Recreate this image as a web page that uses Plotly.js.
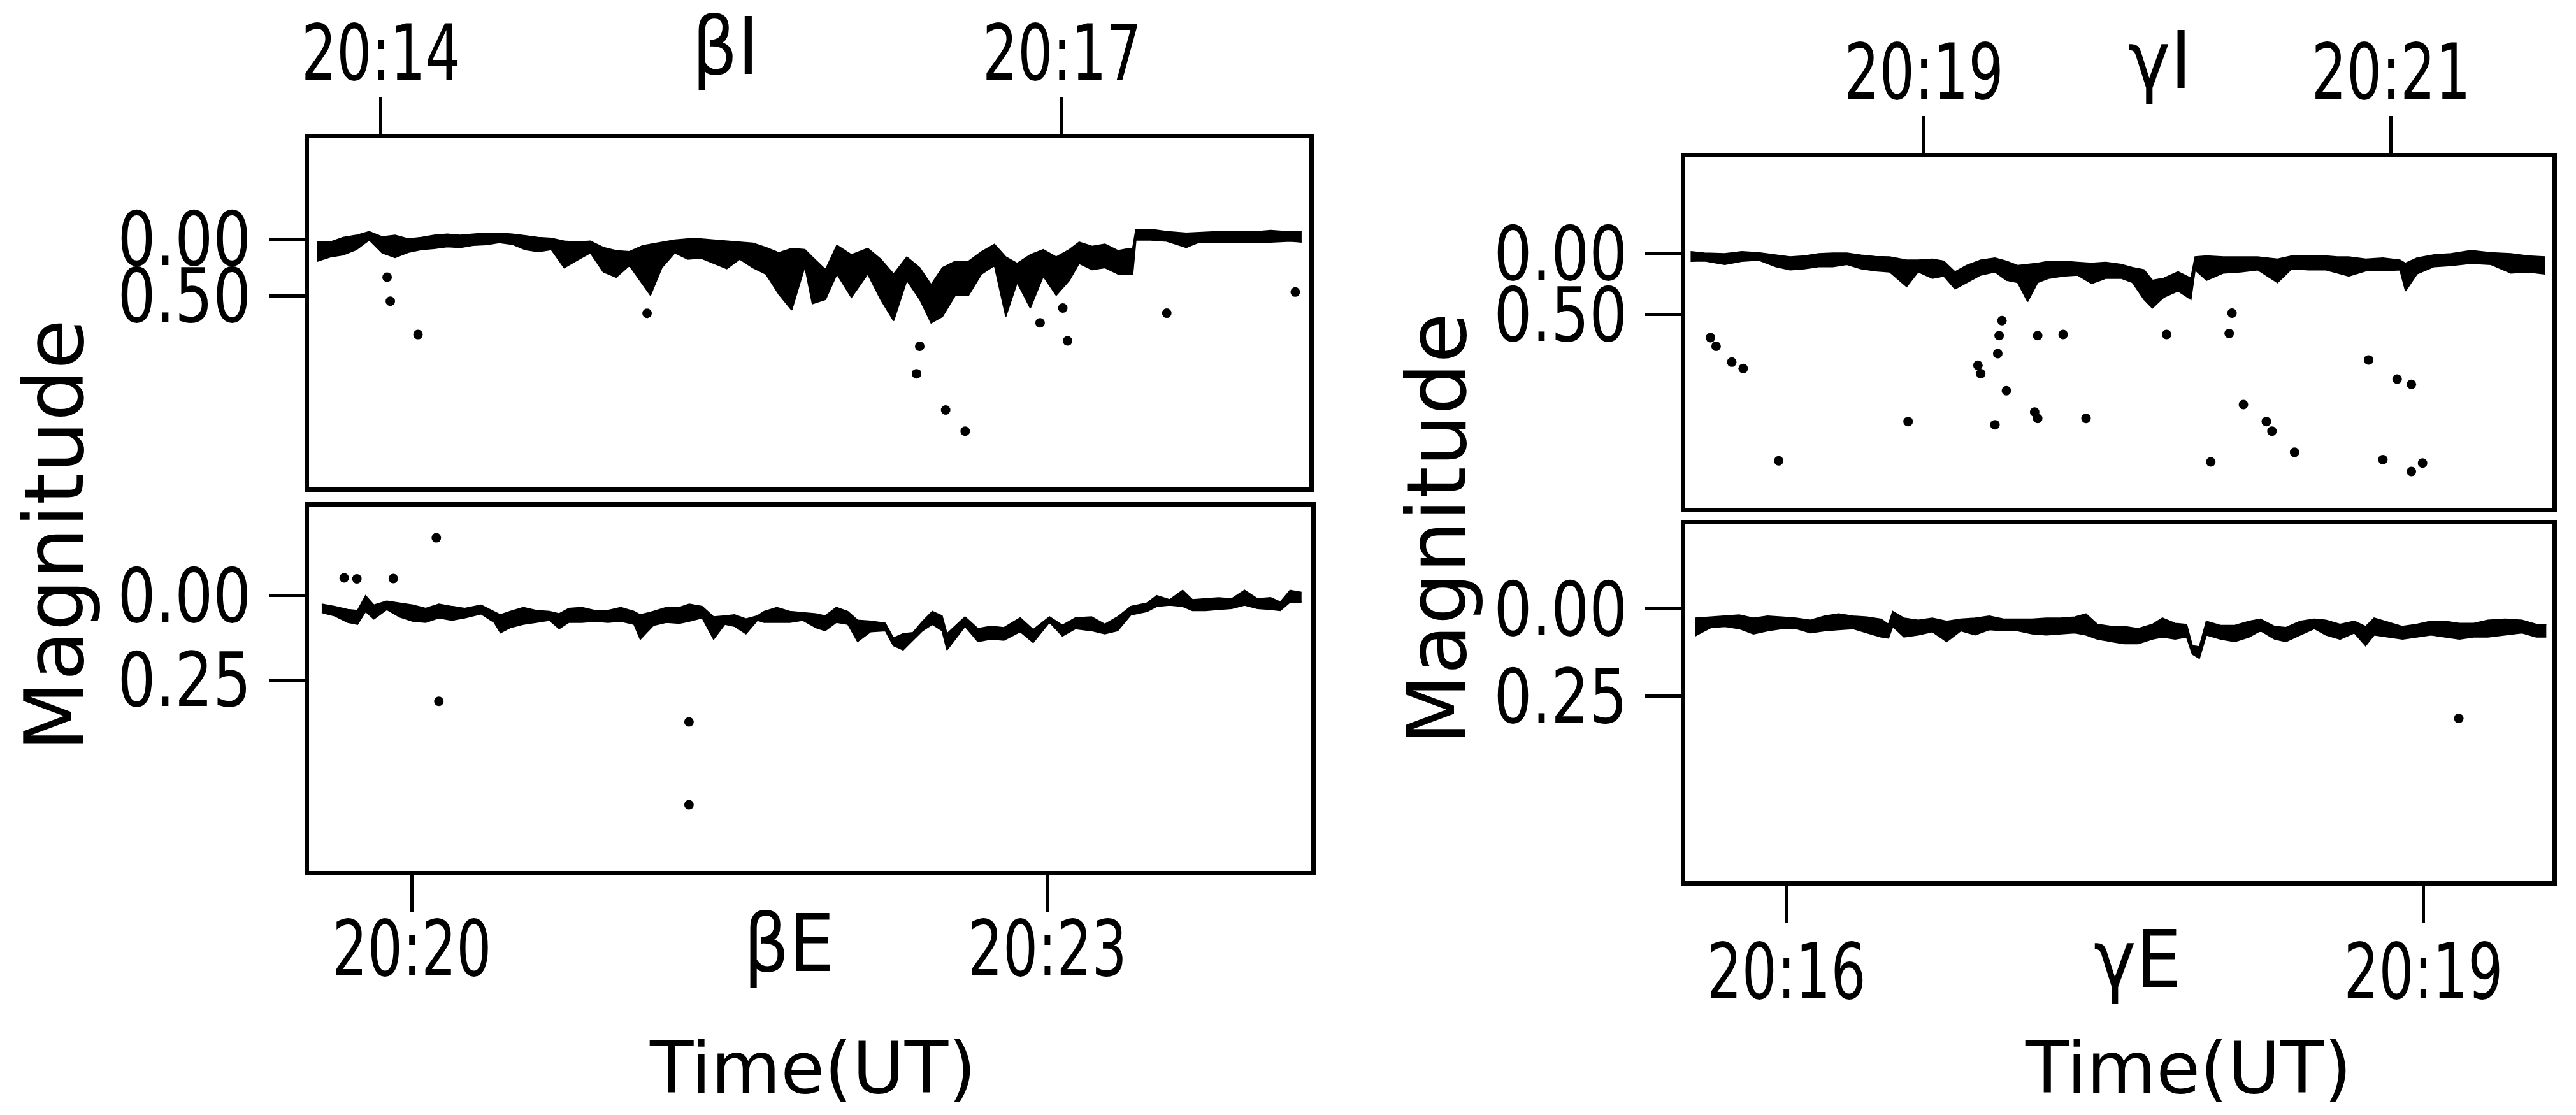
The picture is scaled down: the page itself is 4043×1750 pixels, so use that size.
<!DOCTYPE html>
<html><head><meta charset="utf-8">
<script src="https://cdn.plot.ly/plotly-3.0.1.min.js"></script>
<style>html,body{margin:0;padding:0;background:#fff}</style>
</head><body><div id="chart" style="width:4043px;height:1750px"></div>
<script>
// ---- beta I (ingress) : time in minutes after 20:00, magnitude ----
const biT = [13.719,13.776,13.833,13.891,13.948,14.005,14.062,14.120,14.177,14.234,14.292,14.349,14.406,14.463,14.521,14.578,14.635,14.693,14.750,14.807,14.864,14.922,14.979,15.036,15.094,15.151,15.187,15.237,15.294,15.351,15.409,15.466,15.523,15.580,15.638,15.695,15.752,15.809,15.867,
 15.900,15.958,16.008,16.072,16.144,16.201,16.258,16.316,16.373,16.423,16.473,16.530,16.588,16.645,16.702,16.752,16.802,16.860,16.917,16.974,17.032,17.075,17.132,17.189,17.246,17.297,17.311,17.325,17.390,17.461,17.547,17.604,17.690,17.776,17.862,17.919,18.005,18.055];
const biTop = [0.024,0.028,-0.013,-0.032,-0.065,-0.019,-0.032,0.000,-0.013,-0.032,-0.043,-0.032,-0.043,-0.051,-0.051,-0.043,-0.028,-0.013,-0.006,0.019,0.028,0.019,0.075,0.103,0.112,0.062,0.047,0.028,0.009,0.000,0.000,0.009,0.019,0.028,0.037,0.075,0.122,0.084,0.094,
 0.159,0.271,0.056,0.140,0.084,0.178,0.309,0.159,0.253,0.403,0.253,0.197,0.197,0.112,0.047,0.159,0.215,0.140,0.094,0.159,0.094,0.028,0.066,0.047,0.103,0.084,0.084,-0.084,-0.084,-0.065,-0.051,-0.056,-0.065,-0.062,-0.065,-0.075,-0.062,-0.065];
const biBot = [0.197,0.159,0.140,0.094,0.009,0.122,0.163,0.118,0.094,0.084,0.069,0.075,0.056,0.051,0.032,0.047,0.094,0.112,0.094,0.253,0.187,0.122,0.290,0.337,0.234,0.393,0.496,0.253,0.122,0.178,0.169,0.215,0.262,0.178,0.253,0.309,0.487,0.627,0.243,
 0.571,0.533,0.309,0.515,0.309,0.533,0.721,0.365,0.533,0.740,0.684,0.496,0.496,0.309,0.234,0.684,0.384,0.609,0.328,0.496,0.365,0.215,0.271,0.253,0.309,0.309,0.309,0.009,0.009,0.019,0.075,0.028,0.028,0.024,0.024,0.028,0.019,0.028];
const biOutT = [14.027,14.041,14.163,15.172,16.373,16.359,16.487,16.573,16.903,17.003,17.024,17.461,18.027];
const biOutM = [0.337,0.549,0.843,0.656,0.946,1.189,1.508,1.695,0.740,0.609,0.899,0.655,0.468];

// ---- beta E (egress) ----
const beT = [19.574,19.635,19.697,19.743,19.781,19.820,19.881,19.942,20.004,20.065,20.127,20.188,20.249,20.326,20.388,20.418,20.464,20.526,20.587,20.649,20.695,20.741,20.802,20.863,20.925,20.986,21.048,21.078,21.140,21.201,21.263,21.309,21.370,21.424,21.477,21.523,21.577,21.631,21.662,21.723,21.784,21.846,21.907,
 21.951,22.004,22.058,22.104,22.166,22.235,22.273,22.319,22.365,22.411,22.457,22.503,22.526,22.611,22.672,22.734,22.795,22.872,22.933,23.010,23.071,23.133,23.209,23.271,23.332,23.394,23.470,23.516,23.577,23.639,23.685,23.747,23.808,23.870,23.931,23.992,24.054,24.100,24.146,24.200];
const beTop = [0.025,0.032,0.041,0.044,0.000,0.028,0.016,0.022,0.028,0.038,0.025,0.032,0.038,0.028,0.047,0.057,0.047,0.035,0.044,0.047,0.054,0.038,0.035,0.044,0.044,0.035,0.047,0.057,0.047,0.035,0.035,0.025,0.032,0.063,0.060,0.057,0.069,0.060,0.047,0.035,0.047,0.050,0.054,
 0.060,0.035,0.047,0.073,0.076,0.082,0.126,0.113,0.110,0.076,0.047,0.060,0.113,0.063,0.098,0.091,0.095,0.066,0.101,0.063,0.088,0.066,0.063,0.085,0.063,0.032,0.022,0.000,0.012,-0.016,0.012,0.009,0.006,0.009,-0.016,0.009,0.006,0.019,-0.016,-0.010];
const beBot = [0.050,0.060,0.079,0.085,0.047,0.069,0.041,0.063,0.076,0.079,0.066,0.073,0.066,0.054,0.079,0.110,0.095,0.085,0.079,0.073,0.098,0.079,0.079,0.076,0.079,0.076,0.085,0.129,0.088,0.079,0.082,0.076,0.066,0.129,0.085,0.091,0.113,0.073,0.079,0.079,0.079,0.073,0.095,
 0.104,0.079,0.085,0.136,0.107,0.104,0.148,0.161,0.132,0.104,0.085,0.104,0.161,0.091,0.136,0.129,0.132,0.107,0.139,0.079,0.120,0.098,0.104,0.113,0.104,0.057,0.047,0.032,0.028,0.032,0.044,0.044,0.041,0.038,0.028,0.038,0.041,0.044,0.019,0.019];
const beOutT = [19.680,19.740,19.912,20.115,20.127,21.308,21.308];
const beOutM = [-0.053,-0.050,-0.051,-0.172,0.314,0.375,0.621];

// ---- gamma I (ingress) ----
const giT = [18.001,18.061,18.147,18.220,18.293,18.366,18.427,18.488,18.549,18.610,18.670,18.731,18.792,18.853,18.926,18.975,19.036,19.085,19.133,19.182,19.243,19.304,19.353,19.401,19.444,19.487,19.535,19.596,19.657,19.718,19.779,
 19.844,19.893,19.942,19.978,20.027,20.088,20.143,20.161,20.210,20.283,20.356,20.429,20.514,20.575,20.648,20.721,20.770,20.819,20.892,20.965,21.038,21.062,21.111,21.184,21.257,21.343,21.428,21.513,21.586,21.659];
const giTop = [-0.012,0.000,0.005,-0.012,-0.003,0.014,0.031,0.023,0.005,0.000,0.000,0.017,0.028,0.031,0.057,0.057,0.049,0.066,0.153,0.101,0.057,0.040,0.066,0.101,0.092,0.083,0.066,0.066,0.075,0.083,0.075,
 0.092,0.118,0.136,0.222,0.205,0.153,0.205,0.031,0.023,0.031,0.031,0.031,0.049,0.023,0.023,0.023,0.031,0.031,0.049,0.040,0.057,0.083,0.040,0.014,0.005,-0.021,-0.003,0.005,0.023,0.031];
const giBot = [0.066,0.063,0.092,0.066,0.057,0.110,0.136,0.127,0.110,0.110,0.092,0.127,0.144,0.153,0.274,0.153,0.205,0.187,0.292,0.240,0.179,0.153,0.222,0.240,0.396,0.240,0.205,0.187,0.179,0.248,0.205,
 0.205,0.240,0.378,0.448,0.361,0.309,0.378,0.136,0.222,0.162,0.153,0.136,0.240,0.127,0.136,0.136,0.162,0.187,0.144,0.144,0.136,0.309,0.170,0.110,0.101,0.083,0.092,0.162,0.153,0.170];
const giOutT = [18.086,18.110,18.177,18.226,18.378,18.932,19.231,19.243,19.304,19.316,19.322,19.334,19.353,19.474,19.487,19.487,19.596,19.694,20.039,20.228,20.307,20.319,20.368,20.466,20.490,20.587,20.904,20.965,21.026,21.087,21.087,21.135];
const giOutM = [0.691,0.761,0.891,0.943,1.698,1.377,0.917,0.986,1.403,0.821,0.674,0.552,1.125,1.299,1.351,0.674,0.665,1.351,0.665,1.707,0.657,0.491,1.238,1.377,1.455,1.628,0.873,1.689,1.030,1.073,1.785,1.716];

// ---- gamma E (egress) ----
const geT = [15.570,15.644,15.711,15.778,15.845,15.912,15.979,16.046,16.113,16.180,16.246,16.313,16.380,16.447,16.481,16.501,16.554,16.621,16.688,16.755,16.822,16.889,16.956,17.023,17.090,17.157,17.224,17.291,17.358,17.411,17.465,17.532,
 17.590,17.657,17.724,17.771,17.831,17.885,17.912,17.945,17.978,18.045,18.112,18.179,18.233,18.300,18.353,18.420,18.487,18.541,18.608,18.675,18.728,18.768,18.835,18.902,18.969,19.036,19.103,19.170,19.237,19.304,19.384,19.465,19.532,19.579];
const geTop = [0.027,0.024,0.021,0.018,0.027,0.021,0.024,0.027,0.033,0.021,0.015,0.021,0.024,0.030,0.045,0.008,0.027,0.033,0.027,0.036,0.030,0.027,0.021,0.030,0.030,0.030,0.027,0.027,0.024,0.015,0.045,0.051,
 0.051,0.057,0.045,0.027,0.042,0.045,0.106,0.109,0.036,0.048,0.048,0.036,0.030,0.051,0.054,0.036,0.030,0.033,0.045,0.036,0.051,0.027,0.039,0.051,0.045,0.036,0.036,0.042,0.042,0.033,0.030,0.033,0.045,0.045];
const geBot = [0.078,0.054,0.051,0.057,0.072,0.063,0.057,0.057,0.069,0.063,0.060,0.057,0.069,0.081,0.084,0.051,0.081,0.075,0.066,0.094,0.063,0.075,0.060,0.063,0.063,0.072,0.075,0.072,0.069,0.075,0.087,0.094,
 0.100,0.100,0.087,0.081,0.087,0.081,0.130,0.142,0.075,0.087,0.094,0.081,0.063,0.087,0.094,0.075,0.057,0.075,0.087,0.069,0.106,0.075,0.081,0.087,0.081,0.075,0.081,0.087,0.081,0.081,0.075,0.069,0.081,0.081];
const geOutT = [19.167];
const geOutM = [0.314];

// ---- tick labels and panel names ----
const biTicks = [14, 17], biLabels = ['20:14', '20:17'];
const beTicks = [20, 23], beLabels = ['20:20', '20:23'];
const giTicks = [19, 21], giLabels = ['20:19', '20:21'];
const geTicks = [16, 19], geLabels = ['20:16', '20:19'];
const magTicksI = [0, 0.5], magLabelsI = ['0.00', '0.50'];
const magTicksE = [0, 0.25], magLabelsE = ['0.00', '0.25'];
const panelNames = ['βI', 'βE', 'γI', 'γE'];

const COND = '"DejaVu Sans Condensed", "DejaVu Sans", sans-serif';
const SANS = '"DejaVu Sans", sans-serif';
const W = 4043, H = 1750;
const px = v => v / W, py = v => 1 - v / H;

function band(t, top, bot, xa, ya) {
  return [
    {x: t, y: top, xaxis: xa, yaxis: ya, type: 'scatter', mode: 'lines', line: {color: '#000', width: 2}, hoverinfo: 'skip', showlegend: false},
    {x: t, y: bot, xaxis: xa, yaxis: ya, type: 'scatter', mode: 'lines', line: {color: '#000', width: 2}, fill: 'tonexty', fillcolor: '#000', hoverinfo: 'skip', showlegend: false}
  ];
}
function dots(t, m, xa, ya) {
  return {x: t, y: m, xaxis: xa, yaxis: ya, type: 'scatter', mode: 'markers', marker: {color: '#000', size: 15}, hoverinfo: 'skip', showlegend: false};
}

const data = [].concat(
  band(biT, biTop, biBot, 'x', 'y'), [dots(biOutT, biOutM, 'x', 'y')],
  band(beT, beTop, beBot, 'x2', 'y2'), [dots(beOutT, beOutM, 'x2', 'y2')],
  band(giT, giTop, giBot, 'x3', 'y3'), [dots(giOutT, giOutM, 'x3', 'y3')],
  band(geT, geTop, geBot, 'x4', 'y4'), [dots(geOutT, geOutM, 'x4', 'y4')]
);

function xax(l, r, range, side, vals, text, anchor, standoff) {
  return {domain: [px(l), px(r)], range: range, side: side, anchor: anchor,
    tickmode: 'array', tickvals: vals, ticktext: text, ticks: 'outside', ticklen: 58, tickwidth: 5, tickcolor: '#000',
    showline: true, linewidth: 7, linecolor: '#000', mirror: true, showgrid: false, zeroline: false,
    tickfont: {family: COND, size: 122, color: '#000'}, ticklabelstandoff: standoff, fixedrange: true};
}
function yax(t, b, range, vals, text, anchor) {
  return {domain: [py(b), py(t)], range: range, anchor: anchor,
    tickmode: 'array', tickvals: vals, ticktext: text, ticks: 'outside', ticklen: 56, tickwidth: 5, tickcolor: '#000',
    showline: true, linewidth: 7, linecolor: '#000', mirror: true, showgrid: false, zeroline: false,
    tickfont: {family: COND, size: 118, color: '#000'}, ticklabelstandoff: 4, fixedrange: true};
}

function ann(text, x, y, font, size, angle) {
  return {text: text, xref: 'paper', yref: 'paper', x: px(x), y: py(y), xanchor: 'center', yanchor: 'middle',
    showarrow: false, textangle: angle || 0, font: {family: font, size: size, color: '#000'}};
}

const layout = {
  width: W, height: H, margin: {l: 0, r: 0, t: 0, b: 0},
  paper_bgcolor: '#fff', plot_bgcolor: '#fff', showlegend: false,
  xaxis:  xax(485, 2055, [13.683, 18.089], 'top', biTicks, biLabels, 'y', -22),
  yaxis:  yax(217, 765, [2.191, -0.888], magTicksI, magLabelsI, 'x'),
  xaxis2: xax(485, 2058, [19.514, 24.246], 'bottom', beTicks, beLabels, 'y2', -47),
  yaxis2: yax(795, 1367, [0.818, -0.265], magTicksE, magLabelsE, 'x2'),
  xaxis3: xax(2645, 4006, [17.978, 21.691], 'top', giTicks, giLabels, 'y3', -22),
  yaxis3: yax(247, 797, [2.082, -0.783], magTicksI, magLabelsI, 'x3'),
  xaxis4: xax(2645, 4006, [15.524, 19.608], 'bottom', geTicks, geLabels, 'y4', -27),
  yaxis4: yax(823, 1383, [0.7797, -0.2414], magTicksE, magLabelsE, 'x4'),
  annotations: [
    ann(panelNames[0], 1138, 72, COND, 125),
    ann(panelNames[1], 1238, 1480, COND, 125),
    ann(panelNames[2], 3390, 95, COND, 125),
    ann(panelNames[3], 3355, 1505, COND, 125),
    ann('Time(UT)', 1275, 1676, SANS, 112),
    ann('Time(UT)', 3434, 1676, SANS, 112),
    ann('Magnitude', 85, 840, SANS, 128, -90),
    ann('Magnitude', 2255, 830, SANS, 128, -90)
  ]
};

Plotly.newPlot('chart', data, layout, {displayModeBar: false, staticPlot: true}).then(function () {
  // condense tick label glyphs to the narrow lettering of the original figure
  document.querySelectorAll('g.xtick text, g.x2tick text, g.x3tick text, g.x4tick text').forEach(function (el) {
    el.setAttribute('textLength', 250);
    el.setAttribute('lengthAdjust', 'spacingAndGlyphs');
  });
  document.querySelectorAll('g.ytick text, g.y2tick text, g.y3tick text, g.y4tick text').forEach(function (el) {
    el.setAttribute('textLength', 210);
    el.setAttribute('lengthAdjust', 'spacingAndGlyphs');
  });
});
</script>
</body></html>
